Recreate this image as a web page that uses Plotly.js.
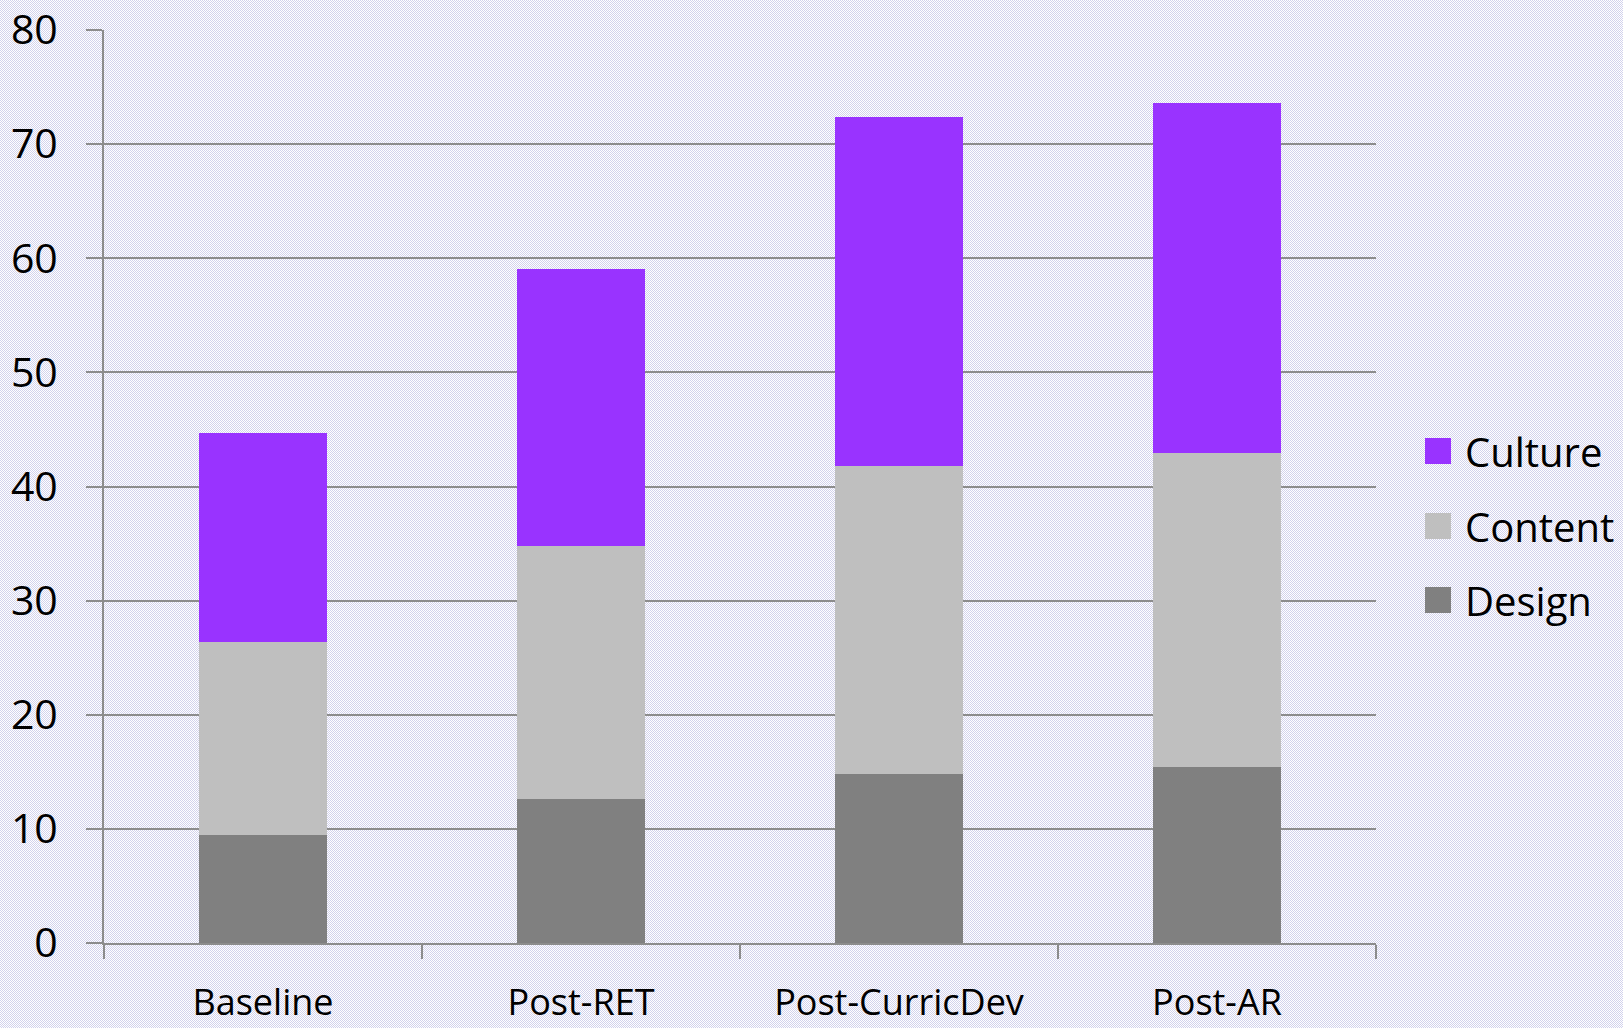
<!DOCTYPE html>
<html>
<head>
<meta charset="utf-8">
<script src="https://cdn.plot.ly/plotly-3.0.1.min.js"></script>
<style>
  html, body { margin: 0; padding: 0; }
  body {
    width: 1623px; height: 1028px; overflow: hidden;
    background-color: #ffffff;
    background-image: repeating-conic-gradient(#ffffff 0 25%, #d2d2ec 0 50%);
    background-size: 2px 2px;
  }
  #chart { width: 1623px; height: 1028px; }
</style>
</head>
<body>
<div id="chart"></div>
<script>
const categories = ["Baseline", "Post-RET", "Post-CurricDev", "Post-AR"];
const seriesNames = ["Design", "Content", "Culture"];
const designValues = [9.5, 12.6, 14.8, 15.4];
const contentValues = [16.9, 22.2, 27.0, 27.5];
const cultureValues = [18.3, 24.3, 30.6, 30.7];
const seriesColors = ["#808080", "#bfbfbf", "#9933ff"];
const yTickValues = [0, 10, 20, 30, 40, 50, 60, 70, 80];

const seriesValues = [designValues, contentValues, cultureValues];
const traces = seriesNames.map((name, i) => ({
  type: "bar",
  name: name,
  x: categories,
  y: seriesValues[i],
  marker: { color: seriesColors[i], line: { width: 0 } },
  showlegend: false,
  hoverinfo: "x+y+name"
}));

// Manual legend (Culture on top), placed to the right of the plot area
const plotL = 104, plotR = 1376, plotT = 30, plotB = 943;
const pw = plotR - plotL, ph = plotB - plotT;
const legendCentersPx = [600, 526, 451]; // Design, Content, Culture
const sq = 26;
const shapes = [], annotations = [];
seriesNames.forEach((name, i) => {
  const cy = legendCentersPx[i];
  shapes.push({
    type: "rect", xref: "paper", yref: "paper",
    x0: (1425 - plotL) / pw, x1: (1425 + sq - plotL) / pw,
    y0: (plotB - cy - sq / 2) / ph, y1: (plotB - cy + sq / 2) / ph,
    fillcolor: seriesColors[i], line: { width: 0 }
  });
  annotations.push({
    xref: "paper", yref: "paper",
    x: (1463 - plotL) / pw, y: (plotB - cy) / ph,
    xanchor: "left", yanchor: "middle",
    text: name, showarrow: false,
    font: { family: "Open Sans, sans-serif", size: 40, color: "#000000" }
  });
});

const layout = {
  width: 1623, height: 1028,
  margin: { l: plotL, r: 1623 - plotR, t: plotT, b: 1028 - plotB, pad: 0 },
  paper_bgcolor: "rgba(0,0,0,0)",
  plot_bgcolor: "rgba(0,0,0,0)",
  barmode: "stack",
  bargap: 0.6,
  showlegend: false,
  font: { family: "Open Sans, sans-serif", color: "#000000" },
  xaxis: {
    type: "category",
    range: [-0.5, 3.5],
    tickson: "boundaries",
    ticks: "outside", ticklen: 14, tickwidth: 2, tickcolor: "#8c8c8c",
    showline: true, linecolor: "#8c8c8c", linewidth: 2,
    showgrid: false, zeroline: false,
    tickfont: { family: "Open Sans, sans-serif", size: 36, color: "#000000" },
    ticklabelstandoff: 27,
    fixedrange: true
  },
  yaxis: {
    range: [0, 80],
    tickvals: yTickValues,
    ticktext: yTickValues.map(String),
    ticks: "outside", ticklen: 16, tickwidth: 2, tickcolor: "#8c8c8c",
    showline: true, linecolor: "#8c8c8c", linewidth: 2,
    showgrid: true, gridcolor: "#8c8c8c", gridwidth: 2,
    zeroline: false,
    tickfont: { family: "Open Sans, sans-serif", size: 41, color: "#000000" },
    ticklabelstandoff: 20,
    fixedrange: true
  },
  shapes: shapes,
  annotations: annotations
};

Plotly.newPlot("chart", traces, layout, { displayModeBar: false, staticPlot: true });
</script>
</body>
</html>
